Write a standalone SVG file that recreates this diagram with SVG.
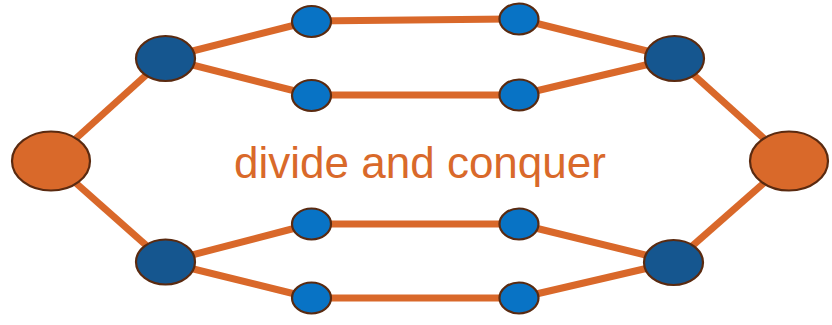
<svg xmlns="http://www.w3.org/2000/svg" width="832" height="325" viewBox="0 0 832 325">
<style>
.e{stroke:#D9682A;stroke-width:7;fill:none}
.n{stroke:#5A2A10;stroke-width:2.2}
.big{fill:#D9692A}
.mid{fill:#15568F}
.sm{fill:#0873C5}
.t{font-family:"Liberation Sans",Arial,sans-serif;font-size:44px;fill:#D9692A}
</style>
<rect width="832" height="325" fill="#fff"/>
<g id="connectors">
<line class="e" x1="51" y1="161" x2="165" y2="58"/>
<line class="e" x1="51" y1="161" x2="165" y2="262"/>
<line class="e" x1="165" y1="58" x2="311" y2="21"/>
<line class="e" x1="165" y1="58" x2="311" y2="95"/>
<line class="e" x1="165" y1="262" x2="311" y2="224"/>
<line class="e" x1="165" y1="262" x2="311" y2="298"/>
<line class="e" x1="311" y1="21" x2="519" y2="19"/>
<line class="e" x1="311" y1="95" x2="519" y2="95"/>
<line class="e" x1="311" y1="224" x2="519" y2="224"/>
<line class="e" x1="311" y1="298" x2="519" y2="298"/>
<line class="e" x1="519" y1="19" x2="675" y2="58"/>
<line class="e" x1="519" y1="95" x2="675" y2="58"/>
<line class="e" x1="519" y1="224" x2="674" y2="262"/>
<line class="e" x1="519" y1="298" x2="674" y2="262"/>
<line class="e" x1="675" y1="58" x2="789" y2="161"/>
<line class="e" x1="674" y1="262" x2="789" y2="161"/>
</g>
<g id="n_left"><ellipse class="n big" cx="51" cy="161" rx="39" ry="29.5"/></g>
<g id="n_right"><ellipse class="n big" cx="789" cy="161" rx="39" ry="29.5"/></g>
<g id="n_tl"><ellipse class="n mid" cx="165.5" cy="58.5" rx="29.5" ry="22.5"/></g>
<g id="n_bl"><ellipse class="n mid" cx="165.5" cy="262" rx="29.5" ry="22.5"/></g>
<g id="n_tr"><ellipse class="n mid" cx="674.5" cy="58.5" rx="29.5" ry="22.5"/></g>
<g id="n_br"><ellipse class="n mid" cx="673.5" cy="262.5" rx="29.5" ry="22.5"/></g>
<g id="s1"><ellipse class="n sm" cx="311.5" cy="21.5" rx="19.5" ry="15.5"/></g>
<g id="s2"><ellipse class="n sm" cx="311.5" cy="95.5" rx="19.5" ry="15.5"/></g>
<g id="s3"><ellipse class="n sm" cx="519" cy="19" rx="19.5" ry="15.5"/></g>
<g id="s4"><ellipse class="n sm" cx="519" cy="95" rx="19.5" ry="15.5"/></g>
<g id="s5"><ellipse class="n sm" cx="311.5" cy="224" rx="19.5" ry="15.5"/></g>
<g id="s6"><ellipse class="n sm" cx="311.5" cy="298" rx="19.5" ry="15.5"/></g>
<g id="s7"><ellipse class="n sm" cx="519" cy="224" rx="19.5" ry="15.5"/></g>
<g id="s8"><ellipse class="n sm" cx="519" cy="298" rx="19.5" ry="15.5"/></g>
<g id="label"><text class="t" x="420" y="178" text-anchor="middle">divide and conquer</text></g>
</svg>
